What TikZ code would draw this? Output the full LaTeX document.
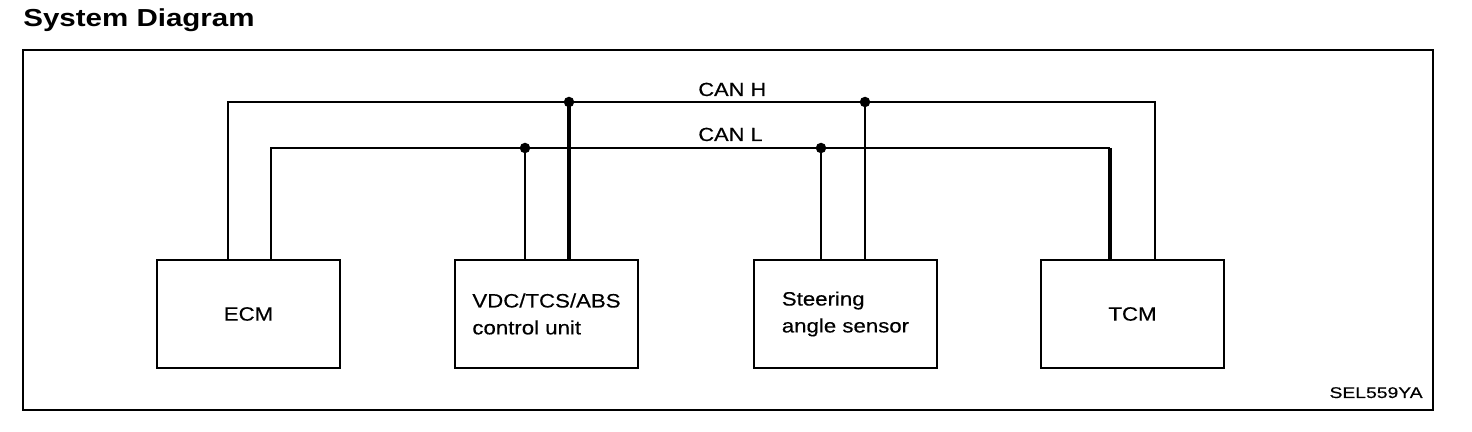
\documentclass[tikz,border=0pt]{standalone}
\usepackage{fontspec}
\setmainfont{Liberation Sans}
\newfontfamily\lblfont[FakeStretch=1.15,FakeBold=0.4]{Liberation Sans}
\newfontfamily\ttlfont[FakeStretch=1.2]{Liberation Sans}
\newfontfamily\codefont[FakeStretch=1.25,FakeBold=0.4]{Liberation Sans}
\begin{document}
\begin{tikzpicture}[x=0.02cm,y=-0.02cm,
  unitbox/.style={draw,line width=1.1pt,minimum width=3.66cm,minimum height=2.16cm,inner sep=0pt,align=left,
    font=\lblfont\fontsize{11}{15.3}\selectfont},
  wire/.style={line width=1.1pt},
  thickwire/.style={line width=1.8pt},
  junction/.style={circle,fill=black,inner sep=0pt,minimum size=0.21cm},
  buslabel/.style={anchor=base west,inner sep=0pt,font=\lblfont\fontsize{10.8}{13}\selectfont}]
\useasboundingbox (0,0) rectangle (1472,432);
\node[anchor=base west,inner sep=0pt,font=\ttlfont\bfseries\fontsize{14}{16}\selectfont] (title) at (23,27) {System Diagram};
\draw[line width=1.3pt] (23,50) rectangle (1433,410);
\node[unitbox] (ecm) at (248.5,314) {ECM};
\node[unitbox] (vdc) at (546.5,314) {VDC/TCS/ABS\\control unit};
\node[unitbox] (sas) at (845.5,314) {Steering\\angle sensor};
\node[unitbox] (tcm) at (1132.5,314) {TCM};
% bus coordinates
\coordinate (hE) at (228,102);
\coordinate (hV) at (569,102);
\coordinate (hS) at (865,102);
\coordinate (hT) at (1155,102);
\coordinate (lE) at (271,148);
\coordinate (lV) at (525,148);
\coordinate (lS) at (821,148);
\coordinate (lT) at (1110,148);
% CAN H
\draw[wire] (ecm.north -| hE) -- (hE) -- (hT) -- (tcm.north -| hT);
% CAN L
\draw[wire] (ecm.north -| lE) -- (lE) -- (lT);
\draw[thickwire] (lT) -- (tcm.north -| lT);
% drops
\draw[thickwire] (hV) -- (vdc.north -| hV);
\draw[wire] (lV) -- (vdc.north -| lV);
\draw[wire] (hS) -- (sas.north -| hS);
\draw[wire] (lS) -- (sas.north -| lS);
\node[junction] (jhV) at (hV) {};
\node[junction] (jlV) at (lV) {};
\node[junction] (jhS) at (hS) {};
\node[junction] (jlS) at (lS) {};
\node[buslabel] (canh) at (698,96) {CAN H};
\node[buslabel] (canl) at (698,141) {CAN L};
\node[anchor=base east,inner sep=0pt,font=\codefont\fontsize{8.8}{10}\selectfont] (code) at (1423,398) {SEL559YA};
\end{tikzpicture}
\end{document}
